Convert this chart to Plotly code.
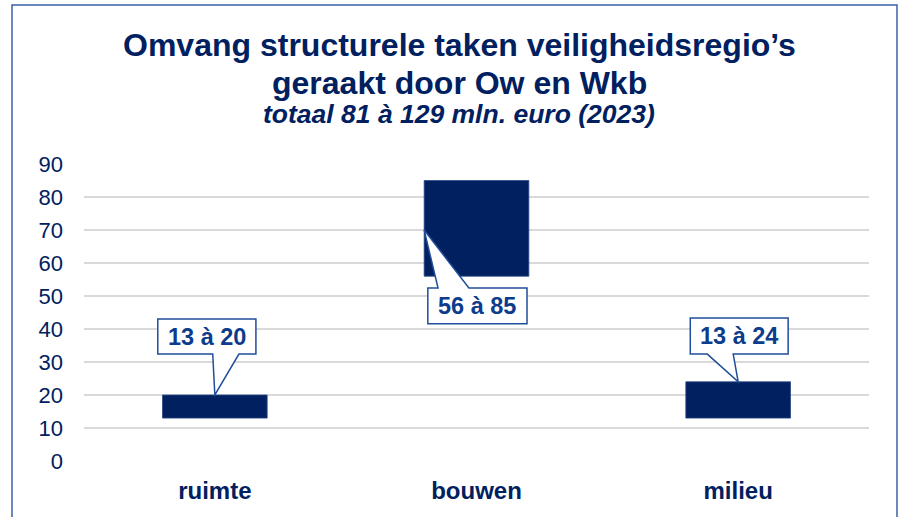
import plotly.graph_objects as go

# data
categories = ["ruimte", "bouwen", "milieu"]
low = [13, 56, 13]
high = [20, 85, 24]
labels = ["13 à 20", "56 à 85", "13 à 24"]
y_ticks = [0, 10, 20, 30, 40, 50, 60, 70, 80, 90]

title_1 = "Omvang structurele taken veiligheidsregio’s"
title_2 = "geraakt door Ow en Wkb"
subtitle = "totaal 81 à 129 mln. euro (2023)"

NAVY = "#002060"
CALLOUT_BLUE = "#0E3C8C"
FONT = "Liberation Sans, Arial, sans-serif"

# callout geometry per category (offsets from category centre, y in axis units)
# box: (x0, x1, y0, y1), wedge: (xa, xb), tip_dx, tip_y (None = bar top), side of the wedge
callouts = [
    dict(box=(-0.218, 0.157, 32.4, 43.0), wedge=(-0.008, 0.092), tip_dx=0.0, tip_y=None, side="bottom"),
    dict(box=(-0.186, 0.193, 41.6, 52.4), wedge=(-0.147, -0.029), tip_dx=-0.2, tip_y=70, side="top"),
    dict(box=(-0.183, 0.191, 32.4, 43.3), wedge=(-0.118, -0.019), tip_dx=0.0, tip_y=None, side="bottom"),
]


def callout_path(cx, c, top_value):
    x0, x1, y0, y1 = c["box"]
    x0, x1 = cx + x0, cx + x1
    wa, wb = cx + c["wedge"][0], cx + c["wedge"][1]
    tx = cx + c["tip_dx"]
    ty = top_value if c["tip_y"] is None else c["tip_y"]
    if c["side"] == "bottom":
        pts = [(x0, y1), (x1, y1), (x1, y0), (wb, y0), (tx, ty), (wa, y0), (x0, y0)]
    else:
        pts = [(x0, y0), (x0, y1), (wa, y1), (tx, ty), (wb, y1), (x1, y1), (x1, y0)]
    return "M " + " L ".join(f"{px},{py}" for px, py in pts) + " Z"


xpos = list(range(len(categories)))

fig = go.Figure()
fig.add_trace(go.Bar(
    x=xpos,
    y=[h - l for h, l in zip(high, low)],
    base=low,
    width=0.4,
    marker=dict(color=NAVY, line=dict(color="#2B4A86", width=0.8)),
    hoverinfo="skip",
))

shapes = []
annotations = []
for i, c in enumerate(callouts):
    shapes.append(dict(type="path", xref="x", yref="y", layer="above",
                       path=callout_path(xpos[i], c, high[i]),
                       fillcolor="white", line=dict(color="#1F4E9A", width=1.5)))
    x0, x1, y0, y1 = c["box"]
    annotations.append(dict(x=xpos[i] + (x0 + x1) / 2, y=(y0 + y1) / 2,
                            xref="x", yref="y", text="<b>" + labels[i] + "</b>",
                            showarrow=False, xanchor="center", yanchor="middle",
                            font=dict(family=FONT, size=23.5, color=CALLOUT_BLUE)))

# outer frame (plot area is 785 x 297 px, starting at x=84, y=164)
shapes.append(dict(type="rect", xref="paper", yref="paper",
                   x0=(12 - 84) / 785, x1=(897 - 84) / 785,
                   y0=(461 - 530) / 297, y1=(461 - 5) / 297,
                   line=dict(color="#3A62A8", width=1.5), fillcolor="rgba(0,0,0,0)"))

# titles
annotations += [
    dict(text="<b>" + title_1 + "</b>", x=0.478, y=1.40, xref="paper", yref="paper",
         showarrow=False, xanchor="center", yanchor="middle",
         font=dict(family=FONT, size=32, color=NAVY)),
    dict(text="<b>" + title_2 + "</b>", x=0.478, y=1.272, xref="paper", yref="paper",
         showarrow=False, xanchor="center", yanchor="middle",
         font=dict(family=FONT, size=32, color=NAVY)),
    dict(text="<b><i>" + subtitle + "</i></b>", x=0.478, y=1.168, xref="paper", yref="paper",
         showarrow=False, xanchor="center", yanchor="middle",
         font=dict(family=FONT, size=26.5, color=NAVY)),
]

fig.update_layout(
    width=899, height=517,
    margin=dict(l=84, r=30, t=164, b=56),
    paper_bgcolor="white", plot_bgcolor="white",
    showlegend=False,
    shapes=shapes,
    annotations=annotations,
    xaxis=dict(range=[-0.5, 2.5], tickvals=xpos,
               ticktext=["<b>" + c + "</b>" for c in categories],
               tickfont=dict(family=FONT, size=24, color=NAVY),
               showgrid=False, zeroline=False, showline=False, ticks="",
               ticklabelstandoff=13),
    yaxis=dict(range=[0, 90], tickvals=y_ticks,
               tickfont=dict(family=FONT, size=22, color=NAVY),
               showgrid=True, gridcolor="#D9D9D9", gridwidth=1.5,
               zeroline=False, showline=False, ticks="",
               ticklabelstandoff=20),
)

# page body has a default 8px margin; drop it so the figure sits at the window origin
fig.write_html("out.html", config={"displayModeBar": False},
               post_script="document.body.style.margin='0';document.body.style.overflow='hidden';")
